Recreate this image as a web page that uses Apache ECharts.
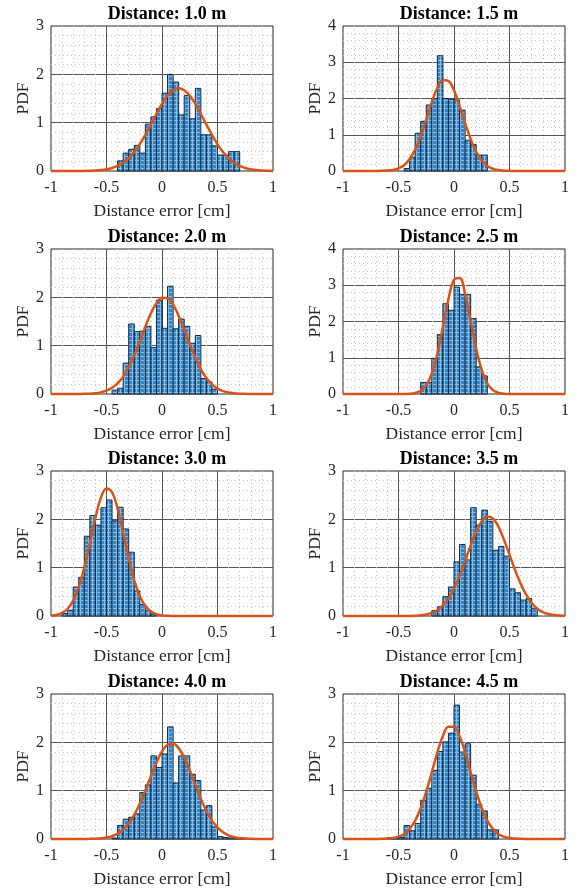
<!DOCTYPE html>
<html>
<head>
<meta charset="utf-8">
<title>Distance error PDF</title>
<script src="https://cdn.jsdelivr.net/npm/echarts@6/dist/echarts.min.js"></script>
<style>
  html, body { margin: 0; padding: 0; background: #fff; }
  #main { width: 578px; height: 893px; }
</style>
</head>
<body>
<div id="main"></div>
<script>
// ---------------- data ----------------
const distances = ['1.0', '1.5', '2.0', '2.5', '3.0', '3.5', '4.0', '4.5']
const xTicks = [-1, -0.5, 0, 0.5, 1]
const yMax = [3, 4, 3, 4, 3, 3, 3, 3]
const binWidth = 0.05
// left edge of the first bin of each histogram
const binStart = [-0.4, -0.45, -0.45, -0.3, -0.9, -0.2, -0.45, -0.6]

const hist10 = [0.21, 0.37, 0.45, 0.53, 0.37, 0.97, 1.12, 1.29, 1.61, 2.0, 1.84, 1.16, 1.56, 1.08, 1.71, 0.75, 0.75, 0.52, 0.33, 0.33, 0.4, 0.4]
const hist15 = [0.07, 0.38, 1.04, 1.37, 1.82, 2.0, 3.18, 2.0, 1.98, 1.96, 1.68, 0.85, 0.73, 0.44, 0.44]
const hist20 = [0.08, 0.12, 0.64, 1.45, 1.29, 1.3, 1.4, 0.96, 1.94, 1.36, 2.23, 1.35, 1.55, 1.4, 1.05, 1.21, 0.32, 0.25, 0.1]
const hist25 = [0.32, 0.32, 0.98, 1.64, 2.49, 2.31, 2.95, 2.75, 2.75, 2.08, 0.75, 0.5]
const hist30 = [0.05, 0.12, 0.6, 0.8, 1.65, 2.08, 1.88, 2.24, 2.4, 1.97, 2.25, 1.8, 1.32, 0.52, 0.24, 0.11, 0.04]
const hist35 = [0.11, 0.19, 0.4, 0.6, 1.12, 1.48, 1.16, 2.24, 1.88, 2.19, 1.96, 1.36, 1.44, 1.24, 0.56, 0.48, 0.33, 0.36, 0.16]
const hist40 = [0.02, 0.28, 0.41, 0.45, 0.52, 0.96, 1.12, 1.72, 1.48, 1.76, 2.32, 1.16, 1.72, 1.72, 1.34, 1.21, 0.6, 0.69, 0.25, 0.05, 0.03, 0.02, 0.02, 0.02]
const hist45 = [0.03, 0.03, 0.03, 0.28, 0.17, 0.32, 0.8, 1.05, 1.42, 1.81, 2.01, 2.19, 2.77, 1.8, 1.97, 1.32, 0.72, 0.58, 0.19, 0.19]

// fitted normal curves, sampled at fitX
const fitX = [-1, -0.95, -0.9, -0.85, -0.8, -0.75, -0.7, -0.65, -0.6, -0.55, -0.5, -0.45, -0.4, -0.35, -0.3, -0.25, -0.2, -0.15, -0.1, -0.05,
  0, 0.05, 0.1, 0.15, 0.2, 0.25, 0.3, 0.35, 0.4, 0.45, 0.5, 0.55, 0.6, 0.65, 0.7, 0.75, 0.8, 0.85, 0.9, 0.95, 1]
const fit10 = [0, 0, 0, 0, 0, 0.001, 0.002, 0.005, 0.01, 0.019, 0.035, 0.062, 0.105, 0.17, 0.265, 0.39, 0.555, 0.747, 0.963, 1.18,
  1.39, 1.56, 1.67, 1.71, 1.67, 1.56, 1.39, 1.18, 0.96, 0.75, 0.55, 0.39, 0.265, 0.17, 0.105, 0.062, 0.035, 0.019, 0.01, 0.005, 0.002]
const fit15 = [0, 0, 0, 0, 0, 0, 0.001, 0.004, 0.011, 0.03, 0.074, 0.16, 0.33, 0.59, 0.96, 1.42, 1.9, 2.29, 2.51, 2.48,
  2.23, 1.8, 1.32, 0.88, 0.53, 0.29, 0.14, 0.062, 0.025, 0.009, 0.003, 0.001, 0, 0, 0, 0, 0, 0, 0, 0, 0]
const fit20 = [0, 0, 0, 0, 0, 0.001, 0.003, 0.007, 0.016, 0.034, 0.068, 0.13, 0.22, 0.36, 0.56, 0.8, 1.09, 1.39, 1.67, 1.88,
  1.99, 1.98, 1.85, 1.62, 1.33, 1.03, 0.75, 0.51, 0.33, 0.2, 0.11, 0.06, 0.03, 0.014, 0.006, 0.003, 0.001, 0, 0, 0, 0]
const fit25 = [0, 0, 0, 0, 0, 0, 0, 0, 0, 0, 0, 0.002, 0.007, 0.028, 0.089, 0.24, 0.57, 1.11, 1.85, 2.62,
  3.15, 3.2, 2.76, 2.01, 1.25, 0.66, 0.29, 0.11, 0.035, 0.01, 0.002, 0, 0, 0, 0, 0, 0, 0, 0, 0, 0]
const fit30 = [0.008, 0.025, 0.065, 0.15, 0.32, 0.6, 1.0, 1.51, 2.03, 2.45, 2.64, 2.56, 2.22, 1.72, 1.19, 0.74, 0.41, 0.21, 0.092, 0.037,
  0.013, 0.004, 0.001, 0, 0, 0, 0, 0, 0, 0, 0, 0, 0, 0, 0, 0, 0, 0, 0, 0, 0]
const fit35 = [0, 0, 0, 0, 0, 0, 0, 0, 0, 0, 0, 0.001, 0.002, 0.006, 0.014, 0.031, 0.063, 0.12, 0.22, 0.36,
  0.57, 0.83, 1.14, 1.46, 1.75, 1.96, 2.06, 2.02, 1.85, 1.58, 1.27, 0.95, 0.67, 0.44, 0.27, 0.15, 0.082, 0.041, 0.019, 0.008, 0.003]
const fit40 = [0, 0, 0, 0, 0, 0, 0.001, 0.003, 0.006, 0.014, 0.029, 0.058, 0.11, 0.19, 0.32, 0.5, 0.73, 1.0, 1.3, 1.58,
  1.81, 1.95, 1.97, 1.88, 1.68, 1.42, 1.12, 0.83, 0.58, 0.38, 0.24, 0.14, 0.075, 0.039, 0.019, 0.009, 0.004, 0.001, 0, 0, 0]
const fit45 = [0, 0, 0, 0, 0, 0, 0.001, 0.003, 0.008, 0.02, 0.048, 0.1, 0.21, 0.38, 0.64, 0.98, 1.38, 1.79, 2.13, 2.32,
  2.32, 2.13, 1.79, 1.38, 0.98, 0.64, 0.38, 0.21, 0.1, 0.048, 0.02, 0.008, 0.003, 0.001, 0, 0, 0, 0, 0, 0, 0]

const hists = [hist10, hist15, hist20, hist25, hist30, hist35, hist40, hist45]
const fits = [fit10, fit15, fit20, fit25, fit30, fit35, fit40, fit45]

// ---------------- layout ----------------
const colLeft = [51, 343]
const rowTop = [26, 249, 471, 694]
const plotW = 222
const plotH = 145
const serif = 'Liberation Serif, Times New Roman, serif'

// bar fill: blue with a fine light mesh, like the exported figure
function meshPattern() {
  const c = document.createElement('canvas')
  c.width = 4
  c.height = 4
  const ctx = c.getContext('2d')
  ctx.fillStyle = '#86bce4'
  ctx.fillRect(0, 0, 4, 4)
  ctx.fillStyle = '#3187ca'
  ctx.fillRect(1, 1, 3, 3)
  return c
}
const barFill = { image: meshPattern(), repeat: 'repeat' }

const chart = echarts.init(document.getElementById('main'))

const grids = []
const xAxes = []
const yAxes = []
const titles = []
const series = []

distances.forEach((d, k) => {
  const left = colLeft[k % 2]
  const top = rowTop[Math.floor(k / 2)]
  grids.push({
    left: left, top: top, width: plotW, height: plotH,
    show: true, borderColor: '#262626', borderWidth: 1, backgroundColor: '#fff'
  })
  titles.push({
    text: 'Distance: ' + d + ' m',
    left: left + plotW / 2,
    textAlign: 'center',
    top: top - 26,
    textStyle: { fontFamily: serif, fontSize: 18, fontWeight: 'bold', color: '#000' }
  })
  xAxes.push({
    gridIndex: k,
    type: 'value',
    min: xTicks[0],
    max: xTicks[xTicks.length - 1],
    interval: xTicks[1] - xTicks[0],
    name: 'Distance error [cm]',
    nameLocation: 'middle',
    nameGap: 31,
    nameTextStyle: { fontFamily: serif, fontSize: 17.5, color: '#262626' },
    axisLine: { show: false },
    axisTick: { show: false },
    axisLabel: { fontFamily: serif, fontSize: 16, color: '#262626', margin: 9, showMinLabel: true, showMaxLabel: true },
    splitLine: { show: true, showMinLine: false, showMaxLine: false, lineStyle: { color: '#555', width: 1 } },
    minorTick: { show: false, splitNumber: 5 },
    minorSplitLine: { show: true, lineStyle: { color: '#c6c6c6', width: 1, type: [1, 3] } }
  })
  yAxes.push({
    gridIndex: k,
    type: 'value',
    min: 0,
    max: yMax[k],
    interval: 1,
    name: 'PDF',
    nameLocation: 'middle',
    nameGap: 19,
    nameTextStyle: { fontFamily: serif, fontSize: 17.5, color: '#262626' },
    axisLine: { show: false },
    axisTick: { show: false },
    axisLabel: { fontFamily: serif, fontSize: 16, color: '#262626', margin: 7 },
    splitLine: { show: true, showMinLine: false, showMaxLine: false, lineStyle: { color: '#555', width: 1 } },
    minorTick: { show: false, splitNumber: 5 },
    minorSplitLine: { show: true, lineStyle: { color: '#c6c6c6', width: 1, type: [1, 3] } }
  })

  // histogram bins [left edge, right edge, pdf]
  const bins = hists[k].map((h, i) => {
    const x0 = +(binStart[k] + i * binWidth).toFixed(2)
    return [x0, +(x0 + binWidth).toFixed(2), h]
  })
  series.push({
    type: 'custom',
    xAxisIndex: k,
    yAxisIndex: k,
    encode: { x: [0, 1], y: 2 },
    data: bins,
    renderItem: function (params, api) {
      const p0 = api.coord([api.value(0), api.value(2)])
      const p1 = api.coord([api.value(1), 0])
      return {
        type: 'rect',
        shape: { x: p0[0], y: p0[1], width: p1[0] - p0[0], height: p1[1] - p0[1] },
        style: { fill: barFill, stroke: '#17283a', lineWidth: 1 }
      }
    },
    z: 2
  })

  series.push({
    type: 'line',
    xAxisIndex: k,
    yAxisIndex: k,
    data: fitX.map((x, i) => [x, fits[k][i]]),
    smooth: 0.4,
    showSymbol: false,
    clip: false,
    lineStyle: { color: '#d95319', width: 2.5 },
    z: 3
  })
})

chart.setOption({
  animation: false,
  title: titles,
  grid: grids,
  xAxis: xAxes,
  yAxis: yAxes,
  series: series
})
</script>
</body>
</html>
